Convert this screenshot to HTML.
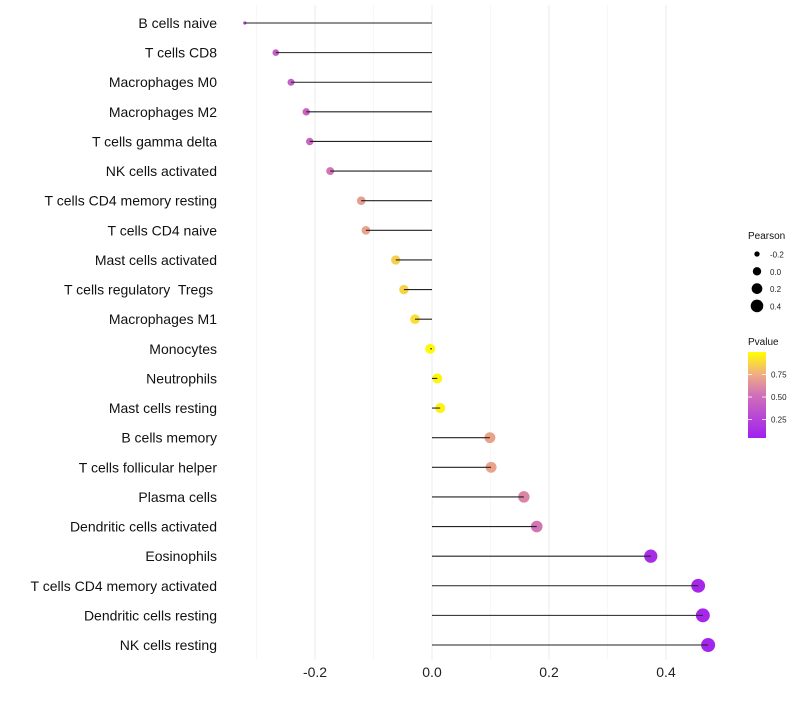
<!DOCTYPE html>
<html><head><meta charset="utf-8"><style>
body{margin:0;background:#fff;font-family:"Liberation Sans",sans-serif}
text{white-space:pre}
</style></head><body>
<svg id="c" width="800" height="700" xmlns="http://www.w3.org/2000/svg">
<defs><linearGradient id="pg" x1="0" y1="1" x2="0" y2="0">
<stop offset="0" stop-color="#A020F0"/><stop offset="0.5" stop-color="#D070B8"/><stop offset="0.75" stop-color="#F0B080"/><stop offset="1" stop-color="#FFFF00"/></linearGradient></defs>
</svg>
<script>
const categories=["B cells naive","T cells CD8","Macrophages M0","Macrophages M2","T cells gamma delta","NK cells activated","T cells CD4 memory resting","T cells CD4 naive","Mast cells activated","T cells regulatory  Tregs ","Macrophages M1","Monocytes","Neutrophils","Mast cells resting","B cells memory","T cells follicular helper","Plasma cells","Dendritic cells activated","Eosinophils","T cells CD4 memory activated","Dendritic cells resting","NK cells resting"];
const pearson=[-0.32,-0.267,-0.241,-0.215,-0.209,-0.174,-0.121,-0.113,-0.062,-0.048,-0.029,-0.003,0.009,0.014,0.099,0.101,0.157,0.179,0.374,0.455,0.463,0.472];
const pvalue=[0.2,0.38,0.4,0.42,0.44,0.52,0.68,0.7,0.85,0.86,0.9,0.98,0.97,0.96,0.7,0.7,0.58,0.52,0.08,0.05,0.05,0.04];
const xTicks=[-0.2,0,0.2,0.4];
const xTickLabels=["-0.2","0.0","0.2","0.4"];
const xMinor=[-0.3,-0.1,0.1,0.3];
const sizeLegend=[-0.2,0,0.2,0.4];
const sizeLegendLabels=["-0.2","0.0","0.2","0.4"];
const colorTicks=[0.25,0.5,0.75];
const colorTickLabels=["0.25","0.50","0.75"];

const svg=document.getElementById('c');const NS="http://www.w3.org/2000/svg";
function el(t,a,p){const e=document.createElementNS(NS,t);for(const k in a)e.setAttribute(k,a[k]);(p||svg).appendChild(e);return e;}
const X=v=>432+v*585;
const Y=i=>23+i*(622/21);
const R=v=>v<-0.3?1.6:Math.sqrt(Math.max(0.5,24.7+51.5*v));
const RL=v=>Math.sqrt(Math.max(0.5,21.2+59.2*v));
function lerp(a,b,t){return a.map((x,i)=>Math.round(x+(b[i]-x)*t));}
const stops=[[0,[160,32,240]],[0.5,[208,112,184]],[0.75,[240,176,128]],[1,[255,255,0]]];
function col(p){for(let i=1;i<stops.length;i++){if(p<=stops[i][0]){const t=(p-stops[i-1][0])/(stops[i][0]-stops[i-1][0]);return 'rgb('+lerp(stops[i-1][1],stops[i][1],Math.max(0,t)).join(',')+')';}}return 'rgb(255,255,0)';}
const PB=660,PT=5;
xMinor.forEach(v=>{const l=el('line',{x1:X(v),x2:X(v),y1:PT,y2:PB,stroke:'#f2f2f2','stroke-width':0.6});

});
xTicks.forEach((v,i)=>{const l=el('line',{x1:X(v),x2:X(v),y1:PT,y2:PB,stroke:'#ebebeb','stroke-width':1});


const t=el('text',{x:X(v),y:677,'text-anchor':'middle','font-size':14,fill:'#222'});t.textContent=xTickLabels[i];

});
categories.forEach((c,i)=>{
const t=el('text',{x:217,y:Y(i)+5,'text-anchor':'end','font-size':14,fill:'#111'});t.textContent=c;


const d=el('circle',{cx:X(pearson[i]),cy:Y(i),r:R(pearson[i]),fill:col(pvalue[i])});


const l=el('line',{x1:X(0),x2:X(pearson[i]),y1:Y(i),y2:Y(i),stroke:'#222','stroke-width':1.1});

});
const g1=el('g',{});


el('text',{x:748,y:239,'font-size':10,fill:'#111'},g1).textContent='Pearson';
sizeLegend.forEach((v,i)=>{const y=254+i*17.3;el('circle',{cx:757,cy:y,r:RL(v)-0.4,fill:'#000'},g1);
el('text',{x:770,y:y+3.5,'font-size':8,fill:'#222'},g1).textContent=sizeLegendLabels[i];});
const g2=el('g',{});


el('text',{x:748,y:345,'font-size':10,fill:'#111'},g2).textContent='Pvalue';
el('rect',{x:748,y:352,width:18,height:86,fill:'url(#pg)'},g2);
const CY=p=>438-(p-0.045)/0.955*86;
colorTicks.forEach((p,i)=>{el('line',{x1:748,x2:752,y1:CY(p),y2:CY(p),stroke:'#fff','stroke-width':0.8},g2);el('line',{x1:762,x2:766,y1:CY(p),y2:CY(p),stroke:'#fff','stroke-width':0.8},g2);
el('text',{x:771,y:CY(p)+3,'font-size':8,fill:'#222'},g2).textContent=colorTickLabels[i];});
</script>
</body></html>
